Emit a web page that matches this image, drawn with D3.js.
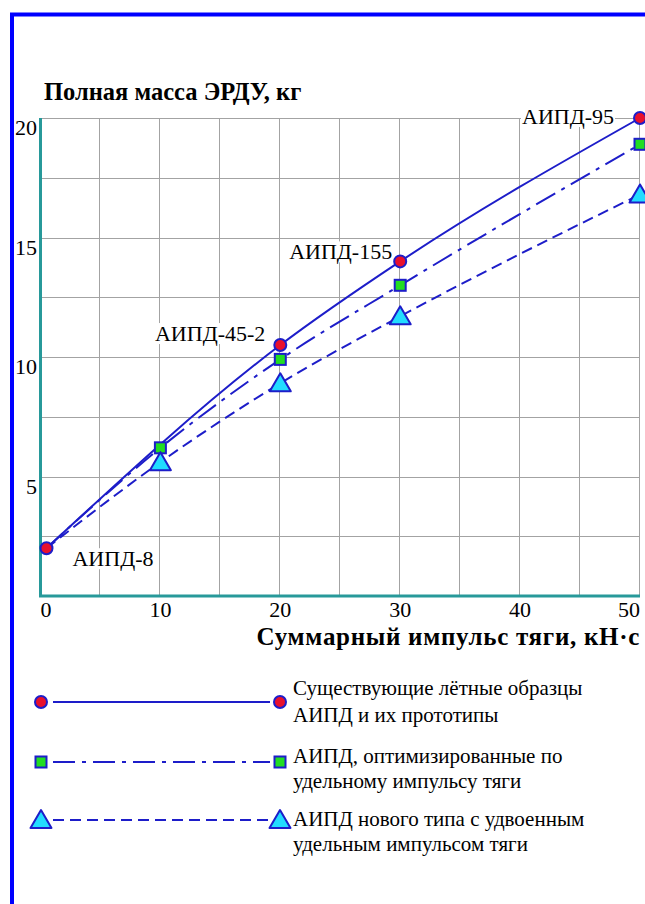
<html>
  <head>
    <meta charset="utf-8">
    <title>Полная масса ЭРДУ</title>
    <script type="text/javascript" src="https://cdn.jsdelivr.net/npm/d3@7/dist/d3.min.js"></script>
    <style type="text/css">

body {
  margin: 0;
  background: #fff;
  font-family: "Liberation Serif", "Times New Roman", serif;
}

    </style>
  </head>
  <body>
    <script type="text/javascript">

// data
var flightX = [0.5, 20, 30, 50],
    flightMass = [2.0, 10.5, 14.0, 20.0],
    flightNames = ["АИПД-8", "АИПД-45-2", "АИПД-155", "АИПД-95"];

var optX = [0.5, 10, 20, 30, 50],
    optMass = [2.0, 6.2, 9.9, 13.0, 18.9];

var newX = [0.5, 10, 20, 30, 50],
    newMass = [2.0, 5.6, 8.9, 11.7, 16.8];

var xTicks = [0, 10, 20, 30, 40, 50],
    yTicks = [5, 10, 15, 20];

var legendText = [
  ["Существующие лётные образцы", "АИПД и их прототипы"],
  ["АИПД, оптимизированные по", "удельному импульсу тяги"],
  ["АИПД нового типа с удвоенным", "удельным импульсом тяги"]
];

var w = 645,
    h = 904,
    font = "'Liberation Serif', 'Times New Roman', serif",
    blue = "#1d1dc9",
    teal = "#27999a",
    grid = "#a3a3a3";

var x = d3.scaleLinear().domain([0, 50]).range([40.5, 640]),
    y = d3.scaleLinear().domain([0, 20]).range([596, 118]);

var svg = d3.select("body")
  .append("svg")
    .attr("width", w)
    .attr("height", h)
    .attr("font-family", font)
    .style("font-family", font);

// frame
svg.append("rect")
    .attr("x", 12)
    .attr("y", 14.5)
    .attr("width", w + 20)
    .attr("height", h + 20)
    .attr("fill", "none")
    .attr("stroke", "#0000ff")
    .attr("stroke-width", 4);

// grid
svg.append("g").selectAll("line")
    .data(d3.range(5, 51, 5))
  .enter().append("line")
    .attr("x1", function(d) { return Math.round(x(d)) - 0.5; })
    .attr("x2", function(d) { return Math.round(x(d)) - 0.5; })
    .attr("y1", y(0))
    .attr("y2", y(20))
    .attr("stroke", grid);

svg.append("g").selectAll("line")
    .data(d3.range(2.5, 20.1, 2.5))
  .enter().append("line")
    .attr("x1", x(0))
    .attr("x2", x(50))
    .attr("y1", function(d) { return Math.round(y(d)) + 0.5; })
    .attr("y2", function(d) { return Math.round(y(d)) + 0.5; })
    .attr("stroke", grid);

// axes
svg.append("path")
    .attr("d", "M" + x(0) + "," + y(20) + "V" + y(0) + "H" + x(50))
    .attr("fill", "none")
    .attr("stroke", teal)
    .attr("stroke-width", 3);

svg.append("g").selectAll("text")
    .data(yTicks)
  .enter().append("text")
    .attr("x", 37)
    .attr("y", function(d) { return y(d) + 17; })
    .attr("text-anchor", "end")
    .attr("font-size", 22)
    .text(function(d) { return d; });

svg.append("g").selectAll("text")
    .data(xTicks)
  .enter().append("text")
    .attr("x", function(d) { return x(d); })
    .attr("y", 617)
    .attr("text-anchor", function(d, i) { return i == 0 ? "start" : i == xTicks.length - 1 ? "end" : "middle"; })
    .attr("font-size", 22)
    .text(function(d) { return d; });

svg.append("text")
    .attr("x", 44)
    .attr("y", 100)
    .attr("font-size", 24.5)
    .attr("font-weight", "bold")
    .text("Полная масса ЭРДУ, кг");

svg.append("text")
    .attr("x", 640)
    .attr("y", 645)
    .attr("text-anchor", "end")
    .attr("font-size", 25)
    .attr("letter-spacing", 0.7)
    .attr("font-weight", "bold")
    .text("Суммарный импульс тяги, кН·с");

// series
var series = [
  {xs: flightX, ys: flightMass, dash: null, shape: "circle", skip: -1},
  {xs: optX, ys: optMass, dash: "22,7,4,7", shape: "square", skip: 0},
  {xs: newX, ys: newMass, dash: "11,6", shape: "triangle", skip: 0}
];

var line = d3.line()
    .x(function(d) { return x(d[0]); })
    .y(function(d) { return y(d[1]); })
    .curve(d3.curveMonotoneX);

series.forEach(function(s) {
  s.points = s.xs.map(function(v, i) { return [v, s.ys[i]]; });
  svg.append("path")
      .attr("d", line(s.points))
      .attr("fill", "none")
      .attr("stroke", blue)
      .attr("stroke-width", 2)
      .attr("stroke-dasharray", s.dash);
});

// point labels with white boxes
var labelOffsets = [[26, 18, "start"], [-15, -4, "end"], [-8, -2, "end"], [-26, 6, "end"]];

flightNames.forEach(function(name, i) {
  var o = labelOffsets[i],
      g = svg.append("g");
  var t = g.append("text")
      .attr("x", x(flightX[i]) + o[0])
      .attr("y", y(flightMass[i]) + o[1])
      .attr("text-anchor", o[2])
      .attr("font-size", 22)
      .text(name);
  var b = t.node().getBBox();
  g.insert("rect", "text")
      .attr("x", b.x - 1)
      .attr("y", b.y + 2)
      .attr("width", b.width + 2)
      .attr("height", b.height - 4)
      .attr("fill", "#fff");
});

function marker(g, shape, cx, cy) {
  if (shape == "circle") {
    g.append("circle")
        .attr("cx", cx)
        .attr("cy", cy)
        .attr("r", 6)
        .attr("fill", "#e8112d")
        .attr("stroke", blue)
        .attr("stroke-width", 2);
  } else if (shape == "square") {
    g.append("rect")
        .attr("x", cx - 5.5)
        .attr("y", cy - 5.5)
        .attr("width", 11)
        .attr("height", 11)
        .attr("fill", "#22dd22")
        .attr("stroke", blue)
        .attr("stroke-width", 2);
  } else {
    g.append("path")
        .attr("d", "M" + cx + "," + (cy - 10) + "L" + (cx + 10.5) + "," + (cy + 8) + "L" + (cx - 10.5) + "," + (cy + 8) + "Z")
        .attr("fill", "#22dcff")
        .attr("stroke", blue)
        .attr("stroke-width", 2)
        .attr("stroke-linejoin", "round");
  }
}

series.forEach(function(s) {
  var g = svg.append("g");
  s.points.forEach(function(p, i) {
    if (i == s.skip) return;
    marker(g, s.shape, x(p[0]), y(p[1]));
  });
});

// legend
var legendY = [702, 762, 820],
    textY = [[695, 722], [763, 788], [826, 851]];

series.forEach(function(s, i) {
  var g = svg.append("g");
  g.append("line")
      .attr("x1", 53)
      .attr("x2", 270)
      .attr("y1", legendY[i])
      .attr("y2", legendY[i])
      .attr("stroke", blue)
      .attr("stroke-width", 2)
      .attr("stroke-dasharray", s.dash);
  marker(g, s.shape, 41, legendY[i]);
  marker(g, s.shape, 280, legendY[i]);
  g.selectAll("text")
      .data(legendText[i])
    .enter().append("text")
      .attr("x", 293)
      .attr("y", function(d, j) { return textY[i][j]; })
      .attr("font-size", 21)
      .text(function(d) { return d; });
});

    </script>
  </body>
</html>
